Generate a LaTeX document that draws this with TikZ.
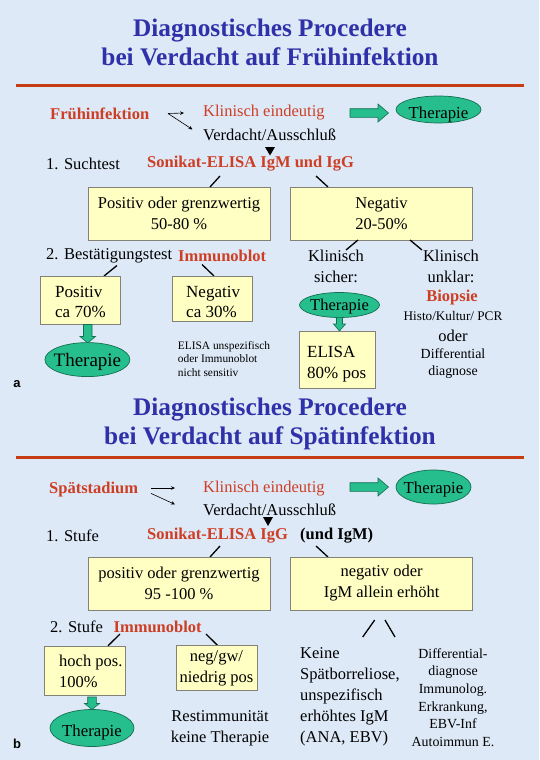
\documentclass[tikz,border=0pt]{standalone}
\usepackage{fontspec}
\setmainfont{Liberation Serif}
\setsansfont{Liberation Sans}
\usetikzlibrary{shapes.geometric,arrows.meta}
\definecolor{bg}{RGB}{221,233,247}
\definecolor{ttlblue}{RGB}{48,48,168}
\definecolor{rline}{RGB}{200,60,20}
\definecolor{rtxt}{RGB}{206,62,36}
\definecolor{boxfill}{RGB}{255,255,196}
\definecolor{boxline}{RGB}{130,130,120}
\definecolor{ellfill}{RGB}{38,190,140}
\definecolor{elldraw}{RGB}{20,110,80}
\begin{document}
\begin{tikzpicture}[x=1pt,y=-1pt,
  txt/.style={inner sep=0pt,align=center,font=\fontsize{16.5}{21}\selectfont},
  redb/.style={txt,text=rtxt,font=\fontsize{16.5}{21}\selectfont\bfseries},
  redr/.style={txt,text=rtxt},
  ttl/.style={inner sep=0pt,align=center,text=ttlblue,font=\fontsize{25.3}{29.3}\selectfont\bfseries},
  bx/.style={draw=boxline,fill=boxfill,line width=0.8pt,inner sep=0pt,align=center,font=\fontsize{16.5}{21}\selectfont},
  ell/.style={ellipse,draw=elldraw,fill=ellfill,line width=0.7pt,inner sep=0pt},
  etxt/.style={inner sep=0pt,anchor=base,font=\fontsize{16.8}{20}\selectfont},
  conn/.style={line width=1.3pt,black},
  thin/.style={line width=0.6pt,-{Stealth[length=4pt,width=3.5pt]}},
  barrow/.style={fill=ellfill,draw=elldraw,line width=0.6pt},
  tri/.style={fill=black},
  lbl/.style={inner sep=0pt,font=\fontsize{13}{15}\selectfont\sffamily\bfseries},
  small/.style={inner sep=0pt,align=left,font=\fontsize{11.4}{13.7}\selectfont},
  mid/.style={inner sep=0pt,align=center,font=\fontsize{13.9}{17.3}\selectfont}
]
\useasboundingbox (0,0) rectangle (539,760);
\fill[bg] (0,0) rectangle (539,760);

% ================= Part a =================
\node[ttl] (t1) at (270,42.5) {Diagnostisches Procedere\\bei Verdacht auf Frühinfektion};
\draw[rline,line width=3pt] (15.5,85) -- (524,85);

\node[redb,anchor=west] (fi) at (50,113.4) {Frühinfektion};
\node[redr,anchor=west] (ke1) at (203,113) {Klinisch eindeutig};
\node[txt,anchor=west] (va1) at (203,134.7) {Verdacht/Ausschluß};
\coordinate (fa) at (168,113.5);
\coordinate (fb) at (184,113);
\coordinate (fc) at (192.5,129.5);
\draw[thin] (fa) -- (fb);
\draw[thin] (fa) -- (fc);
\draw[barrow] (350,108.7) -- (378,108.7) -- (378,104) -- (388.5,113) -- (378,122) -- (378,117.3) -- (350,117.3) -- cycle;
\node[ell,minimum width=85,minimum height=27] (th1) at (438.5,109.5) {};
\node[etxt] (th1t) at (438.5,118.5) {Therapie};
\fill[tri] (265,147) -- (275,147) -- (270,155.5) -- cycle;

\node[txt,anchor=west] (st1) at (46,164) {1. Suchtest};
\node[redb,anchor=west] (so1) at (147,164) {Sonikat-ELISA IgM und IgG};
\node[bx,minimum width=182,minimum height=53] (b1) at (179,213.5) {Positiv oder grenzwertig\\50-80 \%};
\node[bx,minimum width=182,minimum height=53] (b2) at (381.6,213.5) {Negativ\\20-50\%};
\coordinate (c1a) at (220,176); \coordinate (c1b) at (210,187);
\coordinate (c2a) at (316,176); \coordinate (c2b) at (328,187);
\draw[conn] (c1a) -- (c1b);
\draw[conn] (c2a) -- (c2b);

\coordinate (c3a) at (358,240); \coordinate (c3b) at (346,250);
\coordinate (c4a) at (410,240); \coordinate (c4b) at (422,250);
\draw[conn] (c3a) -- (c3b);
\draw[conn] (c4a) -- (c4b);

\node[txt,anchor=west] (bt) at (46,255.5) {2. Bestätigungstest};
\node[redb,anchor=west] (ib1) at (178,255.5) {Immunoblot};
\coordinate (c5a) at (117,265.5); \coordinate (c5b) at (104,276);
\coordinate (c6a) at (202,264.5); \coordinate (c6b) at (214,276);
\draw[conn] (c5a) -- (c5b);
\draw[conn] (c6a) -- (c6b);

\node[bx,minimum width=79.5,minimum height=48] (b3) at (80.3,300) {};
\node[txt,anchor=west,align=left,font=\fontsize{17}{20.5}\selectfont] (b3t) at (55,302) {Positiv\\ca 70\%};
\node[bx,minimum width=80.7,minimum height=45] (b4) at (212.4,298.5) {};
\node[txt,anchor=west,align=left,font=\fontsize{17}{20.5}\selectfont] (b4t) at (186,302) {Negativ\\ca 30\%};

\node[txt] (ks) at (336,266) {Klinisch\\sicher:};
\node[txt] (ku) at (451,266) {Klinisch\\unklar:};
\node[redb] (bio) at (452,297.7) {Biopsie};
\node[mid,font=\fontsize{13.2}{16}\selectfont] (hk) at (453,316) {Histo/Kultur/ PCR};
\node[txt] (od) at (453,336) {oder};
\node[mid] (dd1) at (453,363.5) {Differential\\diagnose};

\node[ell,minimum width=80,minimum height=25] (th2) at (339.5,305) {};
\node[etxt,font=\fontsize{16.5}{20}\selectfont] (th2t) at (339.5,310) {Therapie};
\draw[barrow] (336.5,317.3) -- (342.5,317.3) -- (342.5,324) -- (345.5,324) -- (339.5,331) -- (333.5,324) -- (336.5,324) -- cycle;
\node[bx,minimum width=76,minimum height=57] (b5) at (337,359.5) {};
\node[txt,anchor=west,align=left,font=\fontsize{17}{20.5}\selectfont] (b5t) at (307,364) {ELISA\\80\% pos};

\draw[barrow] (83.5,324.5) -- (92,324.5) -- (92,336.5) -- (95.5,336.5) -- (87.7,343) -- (80,336.5) -- (83.5,336.5) -- cycle;
\node[ell,minimum width=85,minimum height=34] (th3) at (87.4,359.6) {};
\node[etxt,font=\fontsize{19}{22}\selectfont] (th3t) at (87.4,366.5) {Therapie};

\node[small,anchor=west] (eu) at (177.7,359) {ELISA unspezifisch\\oder Immunoblot\\nicht sensitiv};
\node[lbl] (la) at (17,383.7) {a};

% ================= Part b =================
\node[ttl] (t2) at (270,424) {Diagnostisches Procedere\\bei Verdacht auf Spätinfektion};
\draw[rline,line width=3pt] (15.5,457.3) -- (524,457.3);

\node[redb,anchor=west] (sp) at (49,489.3) {Spätstadium};
\node[redr,anchor=west] (ke2) at (203,489) {Klinisch eindeutig};
\node[txt,anchor=west] (va2) at (203,510) {Verdacht/Ausschluß};
\coordinate (sa1) at (151,488); \coordinate (sb1) at (175,488);
\coordinate (sa2) at (151,493.4); \coordinate (sb2) at (175,504.4);
\draw[thin] (sa1) -- (sb1);
\draw[thin] (sa2) -- (sb2);
\draw[barrow] (350,482.7) -- (378,482.7) -- (378,478) -- (388.5,487) -- (378,496) -- (378,491.3) -- (350,491.3) -- cycle;
\node[ell,minimum width=75,minimum height=34] (th4) at (433.5,487) {};
\node[etxt] (th4t) at (433.5,493.5) {Therapie};
\fill[tri] (263,517) -- (273,517) -- (268,526) -- cycle;

\node[txt,anchor=west] (st2) at (46,535.5) {1. Stufe};
\node[redb,anchor=west] (so2) at (147,535.5) {Sonikat-ELISA IgG};
\node[txt,anchor=west,font=\fontsize{16.5}{21}\selectfont\bfseries] (ui) at (300,535.5) {(und IgM)};
\coordinate (d1a) at (220,546); \coordinate (d1b) at (210,557);
\coordinate (d2a) at (316,546); \coordinate (d2b) at (328,557);
\draw[conn] (d1a) -- (d1b);
\draw[conn] (d2a) -- (d2b);
\node[bx,minimum width=182,minimum height=53] (b6) at (179,583.5) {positiv oder grenzwertig\\95 -100 \%};
\node[bx,minimum width=182,minimum height=53] (b7) at (381.6,583.5) {negativ oder\\IgM allein erhöht};

\node[txt,anchor=west] (st3) at (50,626.6) {2. Stufe};
\node[redb,anchor=west] (ib2) at (113.4,626.6) {Immunoblot};
\coordinate (d3a) at (374.7,620); \coordinate (d3b) at (362.7,637);
\coordinate (d4a) at (385,620); \coordinate (d4b) at (395,637);
\draw[conn] (d3a) -- (d3b);
\draw[conn] (d4a) -- (d4b);
\coordinate (d5a) at (120,634); \coordinate (d5b) at (108,645.8);
\coordinate (d6a) at (206,634); \coordinate (d6b) at (218,645.8);
\draw[conn] (d5a) -- (d5b);
\draw[conn] (d6a) -- (d6b);

\node[bx,minimum width=81,minimum height=49] (b8) at (85,670.4) {};
\node[txt,anchor=west,align=left] (b8t) at (59,671.5) {hoch pos.\\100\%};
\node[bx,minimum width=81,minimum height=44.7] (b9) at (216.5,668.1) {neg/gw/\\niedrig pos};

\draw[barrow] (87.7,697) -- (96.3,697) -- (96.3,703.5) -- (99.5,703.5) -- (92,709.5) -- (84.5,703.5) -- (87.7,703.5) -- cycle;
\node[ell,minimum width=84,minimum height=37] (th5) at (92,728) {};
\node[etxt] (th5t) at (92,736) {Therapie};

\node[txt] (rk) at (220,728.3) {Restimmunität\\keine Therapie};
\node[txt,anchor=west,align=left] (kn) at (300,696.5) {Keine\\Spätborreliose,\\unspezifisch\\erhöhtes IgM\\(ANA, EBV)};
\node[mid,font=\fontsize{13.9}{17.6}\selectfont] (dd2) at (453,697.5) {Differential-\\diagnose\\Immunolog.\\Erkrankung,\\EBV-Inf\\Autoimmun E.};
\node[lbl] (lb) at (17,744) {b};
\end{tikzpicture}
\end{document}
